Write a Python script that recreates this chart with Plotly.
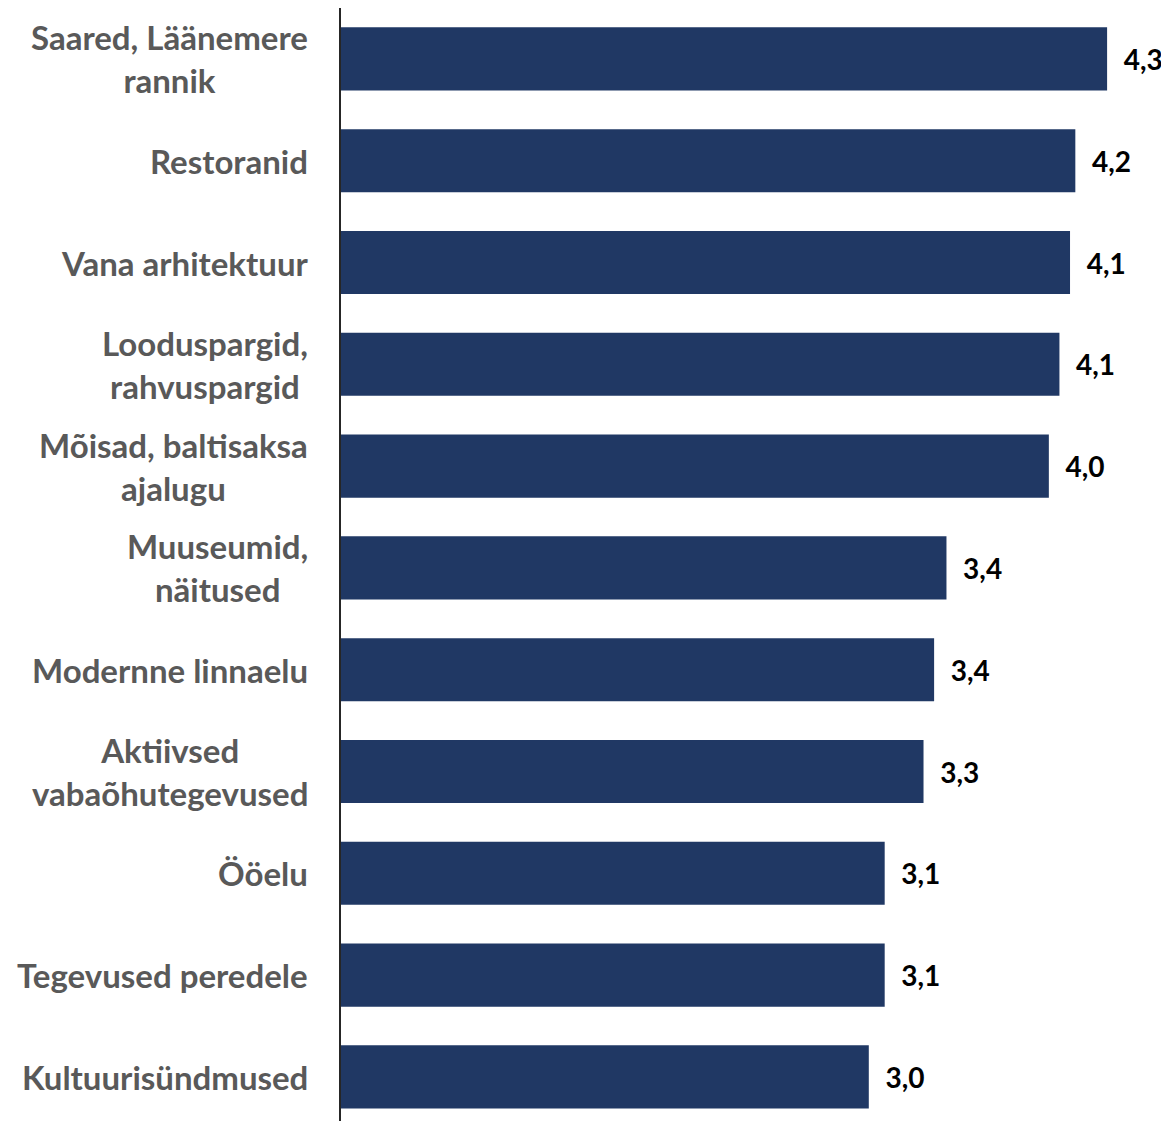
import plotly.graph_objects as go

categories = [
    "Saared, Läänemere<br>rannik",
    "Restoranid",
    "Vana arhitektuur",
    "Looduspargid,<br>rahvuspargid",
    "Mõisad, baltisaksa<br>ajalugu",
    "Muuseumid,<br>näitused",
    "Modernne linnaelu",
    "Aktiivsed<br>vabaõhutegevused",
    "Ööelu",
    "Tegevused peredele",
    "Kultuurisündmused",
]
values = [4.34, 4.16, 4.13, 4.07, 4.01, 3.43, 3.36, 3.30, 3.08, 3.08, 2.99]
value_labels = ["  " + f"{v:.1f}".replace(".", ",") for v in values]

BAR = "#203864"
FONT = "Lato"

fig = go.Figure()
fig.add_trace(go.Bar(
    x=values,
    y=categories,
    orientation="h",
    marker=dict(color=BAR, line=dict(width=0)),
    text=value_labels,
    textposition="outside",
    textfont=dict(family=FONT, size=28, color="#000000", weight="bold"),
    cliponaxis=False,
    width=0.62,
))

for c in categories:
    fig.add_annotation(
        x=0, xref="paper", y=c, yref="y",
        text=c, showarrow=False,
        xanchor="right", yanchor="middle", align="center",
        xshift=-31,
        font=dict(family=FONT, size=33, color="#595959", weight="bold"),
    )

# page has an 8px body margin: figure occupies 8..1169 x 8..1121
W, H = 1161, 1113
plot_h = H
span = plot_h / 101.8
fig.update_layout(
    width=W, height=H,
    margin=dict(l=333, r=16, t=0, b=0),
    plot_bgcolor="white", paper_bgcolor="white",
    showlegend=False,
    xaxis=dict(range=[0, 4.6], visible=False, showgrid=False, zeroline=False),
    yaxis=dict(
        type="category", categoryarray=categories,
        range=[-0.5 + span, -0.5],
        showticklabels=False, ticks="",
        showline=True, linecolor="#262626", linewidth=1.5,
        showgrid=False, zeroline=False,
    ),
)

fig.write_html("out.html")
